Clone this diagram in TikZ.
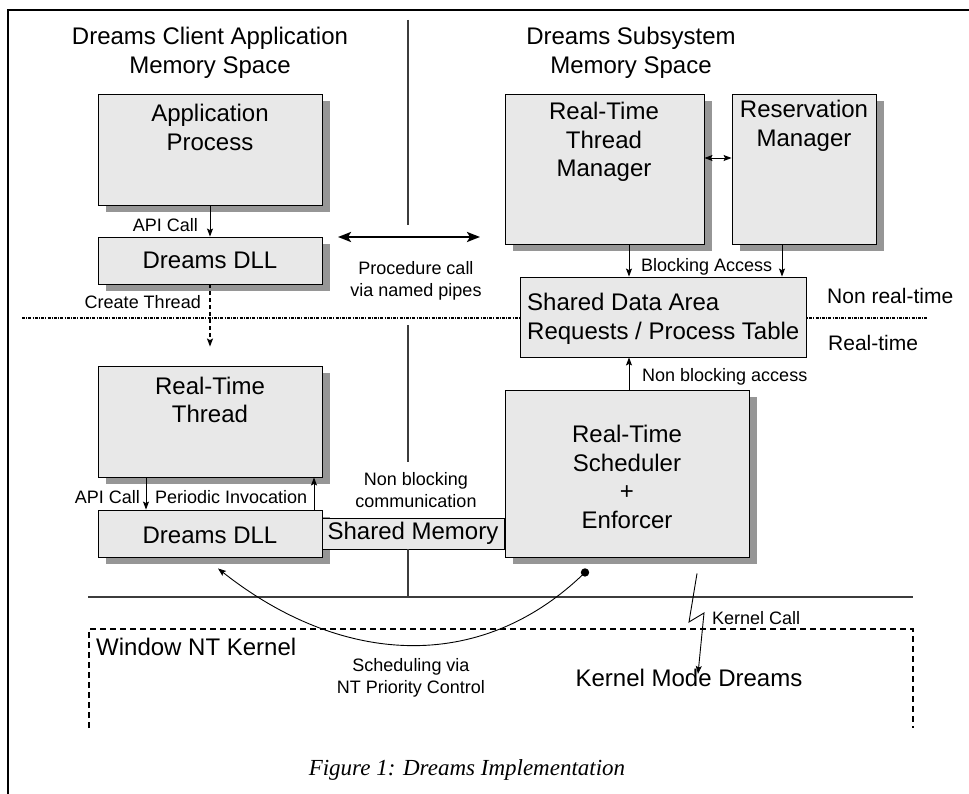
\documentclass[tikz,border=0pt]{standalone}
\usepackage{fontspec}
\setmainfont{Liberation Sans}
\newfontfamily\capfont{Liberation Serif}
\usetikzlibrary{arrows.meta,fit,shadows}
\definecolor{boxfill}{RGB}{232,232,232}
\definecolor{shadowc}{RGB}{150,150,150}
\definecolor{rule}{RGB}{60,60,60}
\tikzset{
  box/.style={draw=black, line width=0.9pt, fill=boxfill, inner sep=0pt},
  sbox/.style={box, drop shadow={shadow xshift=8pt, shadow yshift=-7pt, fill=shadowc, opacity=1}},
  big/.style={font=\fontsize{24}{28.5}\selectfont, align=center, inner sep=0pt},
  mid/.style={font=\fontsize{21}{25}\selectfont, inner sep=0pt},
  lbl/.style={font=\fontsize{18}{22}\selectfont, align=center, inner sep=0pt},
  arr/.style={-{Stealth[length=8pt,width=6pt,inset=1.5pt]}, line width=0.9pt},
  darr/.style={{Stealth[length=8pt,width=6pt,inset=1.5pt]}-{Stealth[length=8pt,width=6pt,inset=1.5pt]}, line width=0.9pt},
  fatarr/.style={{Stealth[length=13pt,width=10pt,inset=3pt]}-{Stealth[length=13pt,width=10pt,inset=3pt]}, line width=2.4pt},
  divider/.style={draw=rule, line width=1.3pt},
}
\begin{document}
\begin{tikzpicture}[x=1pt, y=-1pt]
\useasboundingbox (0,0) rectangle (969,794);

% outer frame (open at the bottom and right)
\draw[line width=2.5pt] (8,794) -- (8,10) -- (969,10);

% memory-space divider and real-time boundary
\draw[divider] (408,20) -- (408,225);
\draw[divider] (408,325) -- (408,462);
\draw[line width=1.2pt, dash pattern=on 3pt off 1.2pt on 1pt off 1.2pt] (22,318) -- (928,318);

% column headings
\node[big] (hl) at (210,53) {Dreams Client Application\\Memory Space};
\node[big] (hr) at (631,53) {Dreams Subsystem\\Memory Space};

% client side
\node[sbox, fit={(98,94) (322,205)}] (ap) {};
\node[big] (apt) at (210,127.5) {Application\\Process};
\node[sbox, fit={(98,237) (322,284)}] (dlla) {};
\node[big] (dllat) at (dlla.center) {Dreams DLL};

\node[sbox, fit={(98,366) (322,477)}] (rtt) {};
\node[big] (rttt) at (210,400) {Real-Time\\Thread};
\node[sbox, fit={(98,510) (322,557)}] (dllb) {};
\node[big] (dllbt) at (210,535) {Dreams DLL};

% subsystem side
\node[sbox, fit={(505,94) (704,244)}] (rtm) {};
\node[big] (rtmt) at (604,142) {Real-Time\\Thread\\Manager};
\node[sbox, fit={(732,94) (876,244)}] (rm) {};
\node[big] (rmt) at (804,126) {Reservation\\Manager};

\node[box, fit={(520,277) (806,357)}] (sda) {};
\node[big, align=left, anchor=west] (sdat) at (527,319) {Shared Data Area\\Requests / Process Table};

\node[sbox, fit={(505,390) (749,557)}] (sch) {};
\node[big] (scht) at (627,477) {Real-Time\\Scheduler\\+\\Enforcer};

\node[box, fit={(322,518) (504,549)}] (shm) {};
\node[big] (shmt) at (shm.center) {Shared Memory};
\draw[divider] (408,0 |- shm.south) -- (408,597);

% user / kernel boundary
\draw[divider] (88,597) -- (913,597);
\draw[line width=1.8pt, dash pattern=on 6pt off 4pt] (89,728) -- (89,629) -- (913,629) -- (913,728);
\node[big, anchor=west] (ntk) at (96,647) {Window NT Kernel};
\node[big] (kmd) at (689,678) {Kernel Mode Dreams};

% side notes
\node[mid, anchor=west] (nrt) at (827,296) {Non real-time};
\node[mid, anchor=west] (rt) at (828,343) {Real-time};

% client connectors
\draw[arr] (ap) -- (dlla);
\node[lbl, anchor=east] (apil) at (198,225) {API Call};
\draw[arr, line width=1.3pt, dash pattern=on 4pt off 3pt] (dlla.south) -- ([yshift=19pt]rtt.north);
\node[lbl, anchor=east] (ctl) at (201,302) {Create Thread};

\draw[arr] ([xshift=-64pt]rtt.south) -- ([xshift=-64pt]rtt.south |- dllb.north);
\node[lbl, anchor=east] (api2) at (140,497) {API Call};
\draw[arr] ([xshift=104pt]dllb.north) -- ([xshift=104pt]dllb.north |- rtt.south);
\node[lbl, anchor=west] (pil) at (155,497) {Periodic Invocation};

% procedure call across the address spaces
\coordinate (pcl) at (338,237);
\coordinate (pcr) at (480,237);
\draw[fatarr] (pcl) -- (pcr);
\node[lbl] (pcn) at (416,281) {Procedure call\\via named pipes};

% subsystem connectors
\draw[darr] ([yshift=11pt]rtm.east) -- ([yshift=11pt]rm.west);
\draw[arr] ([xshift=24.5pt]rtm.south) -- ([xshift=24.5pt]rtm.south |- sda.north);
\draw[arr] ([xshift=-22pt]rm.south) -- ([xshift=-22pt]rm.south |- sda.north);
\node[lbl, anchor=west] (bal) at (641,267) {Blocking Access};
\draw[arr] ([xshift=2pt]sch.north) -- ([xshift=2pt]sch.north |- sda.south);
\node[lbl, anchor=west] (nbl) at (642,377) {Non blocking access};

\node[lbl] (nbc) at (416,490) {Non blocking\\communication};

% scheduling through NT priorities
\coordinate (dot) at ([xshift=-42pt,yshift=-15pt]sch.south);
\coordinate (tip) at ([xshift=8pt,yshift=-11pt]dllb.south);
\fill (dot) circle (4.2pt);
\draw[arr] (dot) .. controls (480,675) and (340,665) .. (tip);
\node[lbl] (sched) at (411,678) {Scheduling via\\NT Priority Control};

% kernel call
\coordinate (kc0) at ([xshift=70pt,yshift=-16pt]sch.south);
\coordinate (kc1) at (689,622);
\coordinate (kc2) at (704,613);
\coordinate (kc3) at ([xshift=9pt,yshift=-5pt]kmd.north);
\draw[arr] (kc0) -- (kc1) -- (kc2) -- (kc3);
\node[lbl, anchor=west] (kcl) at (712,618) {Kernel Call};

% caption
\node[font=\capfont\itshape\fontsize{23}{27}\selectfont, inner sep=0pt] (cap) at (467,770) {Figure 1: Dreams Implementation};
\end{tikzpicture}
\end{document}
